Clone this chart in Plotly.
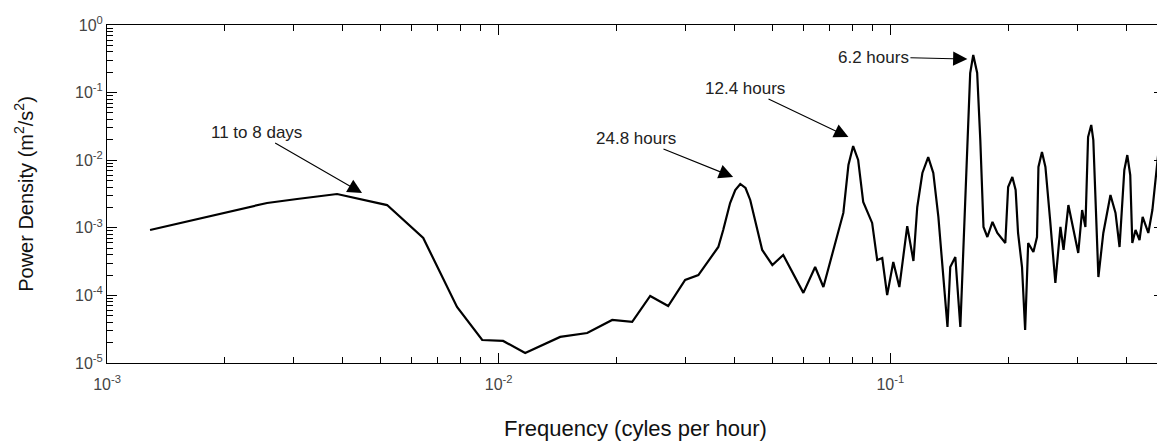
import math
import plotly.graph_objs as go

# spectrum (cycles per hour, m^2/s^2)
freq = [1.288e-3, 1.979e-3, 2.563e-3, 3.058e-3, 3.868e-3, 5.19e-3, 6.42e-3,
        7.83e-3, 9.08e-3, 1.027e-2, 1.169e-2, 1.436e-2, 1.683e-2, 1.950e-2,
        2.193e-2, 2.438e-2, 2.710e-2, 2.994e-2, 3.236e-2, 3.639e-2, 3.745e-2,
        3.90e-2, 4.02e-2, 4.14e-2, 4.27e-2, 4.39e-2, 4.52e-2, 4.71e-2, 5.00e-2,
        5.33e-2, 6.00e-2, 6.43e-2, 6.75e-2, 7.15e-2, 7.36e-2, 7.59e-2, 7.82e-2,
        8.04e-2, 8.28e-2, 8.53e-2, 8.99e-2, 9.26e-2, 9.54e-2, 9.82e-2,
        0.1018, 0.1055, 0.1105, 0.1146, 0.1172, 0.1208, 0.1250, 0.1288, 0.1327,
        0.1400, 0.1423, 0.1466, 0.1510, 0.1535, 0.1574, 0.1600, 0.1629, 0.1667,
        0.1698, 0.1730, 0.1770, 0.1824, 0.1877, 0.1967, 0.200, 0.205, 0.209,
        0.212, 0.217, 0.221, 0.225, 0.232, 0.237, 0.239, 0.244, 0.249, 0.256,
        0.264, 0.272, 0.277, 0.285, 0.293, 0.302, 0.309, 0.315, 0.320, 0.326,
        0.330, 0.334, 0.340, 0.350, 0.365, 0.376, 0.385, 0.396, 0.403, 0.410,
        0.415, 0.423, 0.433, 0.441, 0.448, 0.456, 0.467, 0.486, 0.498]
power = [9.27e-4, 1.656e-3, 2.33e-3, 2.67e-3, 3.16e-3, 2.17e-3, 7.07e-4,
         6.73e-5, 2.19e-5, 2.12e-5, 1.41e-5, 2.43e-5, 2.78e-5, 4.33e-5,
         4.05e-5, 9.8e-5, 6.97e-5, 1.69e-4, 2.00e-4, 5.20e-4, 9.27e-4,
         2.33e-3, 3.62e-3, 4.45e-3, 3.88e-3, 2.58e-3, 1.30e-3, 4.70e-4, 2.82e-4,
         3.96e-4, 1.09e-4, 2.63e-4, 1.33e-4, 4.70e-4, 8.38e-4, 1.66e-3, 8.49e-3,
         1.62e-2, 1.01e-2, 2.41e-3, 1.18e-3, 3.34e-4, 3.57e-4, 1.01e-4,
         3.12e-4, 1.33e-4, 1.06e-3, 3.23e-4, 2.03e-3, 6.47e-3, 1.11e-2, 6.47e-3, 1.45e-3,
         3.41e-5, 2.63e-4, 3.70e-4, 3.41e-5, 4.24e-4, 1.99e-2, 0.195, 0.360, 0.195,
         1.99e-2, 1.03e-3, 7.31e-4, 1.22e-3, 8.38e-4, 5.96e-4, 4.01e-3, 5.64e-3, 3.62e-3,
         8.38e-4, 2.63e-4, 3.08e-5, 5.96e-4, 4.39e-4, 7.31e-4, 7.93e-3, 1.32e-2, 7.93e-3, 1.30e-3,
         1.53e-4, 1.03e-3, 4.70e-4, 2.17e-3, 1.03e-3, 4.24e-4, 1.83e-3, 1.03e-3, 2.20e-2, 3.32e-2,
         1.99e-2, 2.86e-3, 1.87e-4, 8.38e-4, 3.06e-3, 1.66e-3, 5.20e-4, 7.16e-3, 1.19e-2, 6.04e-3,
         5.96e-4, 9.27e-4, 6.6e-4, 1.45e-3, 1.10e-3, 8.38e-4, 1.83e-3, 1.68e-2, 7.93e-3]

y_ticks = [1e-5, 1e-4, 1e-3, 1e-2, 1e-1, 1]
y_labels = ['10<sup>-5</sup>', '10<sup>-4</sup>', '10<sup>-3</sup>',
            '10<sup>-2</sup>', '10<sup>-1</sup>', '10<sup>0</sup>']
x_ticks = [1e-3, 1e-2, 1e-1]
x_labels = ['10<sup>-3</sup>', '10<sup>-2</sup>', '10<sup>-1</sup>']

# labels: text, arrow tip (freq, power), text offset in px
labels = ['11 to 8 days', '24.8 hours', '12.4 hours', '6.2 hours']
tip_f = [4.48e-3, 3.97e-2, 7.82e-2, 0.1574]
tip_p = [3.27e-3, 5.64e-3, 2.20e-2, 0.314]
offsets = [(-106, -61), (-97, -39), (-103, -49), (-94, -2)]

fig = go.Figure()
fig.add_trace(go.Scatter(x=freq, y=power, mode='lines',
                         line=dict(color='black', width=2.2), showlegend=False))

for text, f, p, (ax, ay) in zip(labels, tip_f, tip_p, offsets):
    # annotation positions on log axes are given in log10 units
    fig.add_annotation(x=math.log10(f), y=math.log10(p),
                       text=text, ax=ax, ay=ay, showarrow=True,
                       arrowhead=2, arrowsize=2.6, arrowwidth=1.1, arrowcolor='black',
                       font=dict(size=17, color='#222'))

axis_common = dict(
    type='log', showgrid=False, automargin=False,
    showline=True, linecolor='black', linewidth=1, mirror='allticks',
    ticks='inside', ticklen=10, tickcolor='black',
    tickfont=dict(size=16, color='#444'),
    minor=dict(dtick='D1', ticks='inside', ticklen=6, tickcolor='black', showgrid=False),
    zeroline=False,
)

fig.update_xaxes(range=[-3, -0.301], tickvals=x_ticks, ticktext=x_labels,
                 ticklabelstandoff=7,
                 title=dict(text='Frequency (cyles per hour)',
                            font=dict(size=22, color='#111'), standoff=28), **axis_common)
fig.update_yaxes(range=[-5, 0], tickvals=y_ticks, ticktext=y_labels,
                 title=dict(text='Power Density (m<sup>2</sup>/s<sup>2</sup>)',
                            font=dict(size=20, color='#111'), standoff=36), **axis_common)

# page body has an 8px margin, so the figure is sized to land the axes where the original has them
fig.update_layout(
    width=1157, height=435,
    margin=dict(l=99, r=1, t=17, b=80),
    plot_bgcolor='white', paper_bgcolor='white',
    font=dict(family='Liberation Sans, Arial, sans-serif'),
)

fig.write_html("out.html")
